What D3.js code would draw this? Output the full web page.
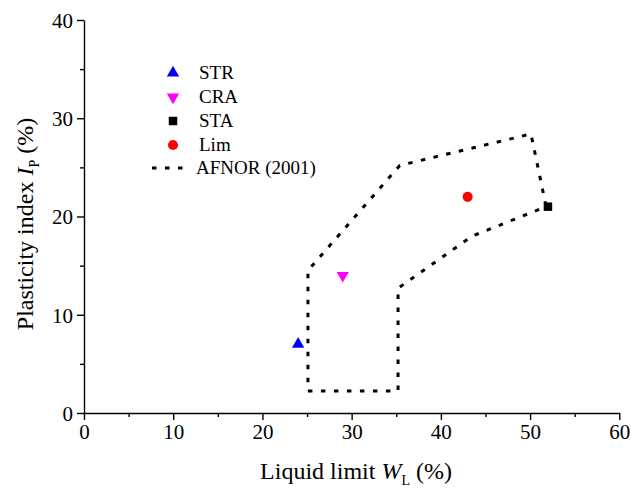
<!DOCTYPE html>
<html>
<head>
<meta charset="utf-8">
<script src="https://cdn.jsdelivr.net/npm/d3@7"></script>
<style>
  body { margin: 0; background: #fff; }
  svg { display: block; }
  text { font-family: "Liberation Serif", "Times New Roman", serif; fill: #000; }
</style>
</head>
<body>
<svg id="chart" width="631" height="492"></svg>
<script>
// ---- data ----
const seriesNames = ["STR", "CRA", "STA", "Lim"];
const seriesColors = ["#0000ff", "#ff00ff", "#000000", "#ff0000"];
const seriesSymbols = ["triangleUp", "triangleDown", "square", "circle"];
const liquidLimit = [24, 29, 52, 43];
const plasticityIndex = [7, 14, 21, 22];
// AFNOR (2001) boundary polygon: [WL, IP]
const afnorWL = [25.1, 35.2, 35.2, 43.5, 51.8, 50.1, 35.4, 25.1, 25.1];
const afnorIP = [2.25, 2.25, 12.7, 18.0, 21.0, 28.4, 25.2, 14.5, 2.25];
const xTicks = [0, 10, 20, 30, 40, 50, 60];
const xMinor = [5, 15, 25, 35, 45, 55];
const yTicks = [0, 10, 20, 30, 40];
const yMinor = [5, 15, 25, 35];

const svg = d3.select("#chart");
const x = d3.scaleLinear().domain([0, 60]).range([84, 619.3]);
const y = d3.scaleLinear().domain([0, 40]).range([413, 20]);

// axes
function styleAxis(g) {
  g.selectAll("path.domain").attr("stroke", "#000").attr("stroke-width", 1.4);
  g.selectAll(".tick line").attr("stroke", "#000").attr("stroke-width", 1.4);
  g.selectAll("text").style("font-family", '"Liberation Serif", serif').style("font-size", "21px").attr("fill", "#000");
}
const gx = svg.append("g").attr("transform", `translate(0,${y(0)})`)
  .call(d3.axisBottom(x).tickValues(xTicks).tickSize(7).tickSizeOuter(0).tickPadding(4).tickFormat(d3.format("d")));
styleAxis(gx);
const gxm = svg.append("g").attr("transform", `translate(0,${y(0)})`)
  .call(d3.axisBottom(x).tickValues(xMinor).tickSize(4).tickSizeOuter(0).tickFormat(""));
styleAxis(gxm);
gxm.select("path.domain").remove();

const gy = svg.append("g").attr("transform", `translate(${x(0)},0)`)
  .call(d3.axisLeft(y).tickValues(yTicks).tickSize(7).tickSizeOuter(0).tickPadding(4).tickFormat(d3.format("d")));
styleAxis(gy);
gy.selectAll("text").attr("dy", "0.35em");
const gym = svg.append("g").attr("transform", `translate(${x(0)},0)`)
  .call(d3.axisLeft(y).tickValues(yMinor).tickSize(4).tickSizeOuter(0).tickFormat(""));
styleAxis(gym);
gym.select("path.domain").remove();

// axis titles
const xt = svg.append("text").attr("x", 356).attr("y", 479).attr("text-anchor", "middle").style("font-size", "24px");
xt.append("tspan").text("Liquid limit ");
xt.append("tspan").style("font-style", "italic").text("W");
xt.append("tspan").attr("dy", 6).style("font-size", "14px").text("L");
xt.append("tspan").attr("dy", -6).text(" (%)");

const yt = svg.append("text").attr("transform", "translate(33,224) rotate(-90)").attr("text-anchor", "middle").style("font-size", "24px");
yt.append("tspan").text("Plasticity index ");
yt.append("tspan").style("font-style", "italic").text("I");
yt.append("tspan").attr("dy", 6).style("font-size", "14px").text("P");
yt.append("tspan").attr("dy", -6).text(" (%)");

// AFNOR polygon
const afnorPts = afnorWL.map((d, i) => [d, afnorIP[i]]);
svg.append("path")
  .attr("d", d3.line().x(d => x(d[0])).y(d => y(d[1]))(afnorPts))
  .attr("fill", "none").attr("stroke", "#000").attr("stroke-width", 3)
  .attr("stroke-dasharray", "4.5,8.5");

// symbols
const symMap = {
  triangleUp: d3.symbol().type(d3.symbolTriangle).size(66)(),
  square: d3.symbol().type(d3.symbolSquare).size(72)(),
  circle: d3.symbol().type(d3.symbolCircle).size(80)()
};
function symPath(s) { return s === "triangleDown" ? symMap.triangleUp : symMap[s]; }
function symRot(s) { return s === "triangleDown" ? " rotate(180)" : ""; }

seriesNames.forEach((n, i) => {
  svg.append("path")
    .attr("d", symPath(seriesSymbols[i]))
    .attr("transform", `translate(${x(liquidLimit[i])},${y(plasticityIndex[i])})` + symRot(seriesSymbols[i]))
    .attr("fill", seriesColors[i]);
});

// legend
const legY = [73, 97, 121, 145];
seriesNames.forEach((n, i) => {
  svg.append("path")
    .attr("d", symPath(seriesSymbols[i]))
    .attr("transform", `translate(173,${legY[i]})` + symRot(seriesSymbols[i]))
    .attr("fill", seriesColors[i]);
  svg.append("text").attr("x", 199).attr("y", legY[i] + 6).style("font-size", "19px").text(n);
});
svg.append("line").attr("x1", 152).attr("x2", 184).attr("y1", 168).attr("y2", 168)
  .attr("stroke", "#000").attr("stroke-width", 3).attr("stroke-dasharray", "4.5,8.5");
svg.append("text").attr("x", 196).attr("y", 174).style("font-size", "19px").text("AFNOR (2001)");
</script>
</body>
</html>
